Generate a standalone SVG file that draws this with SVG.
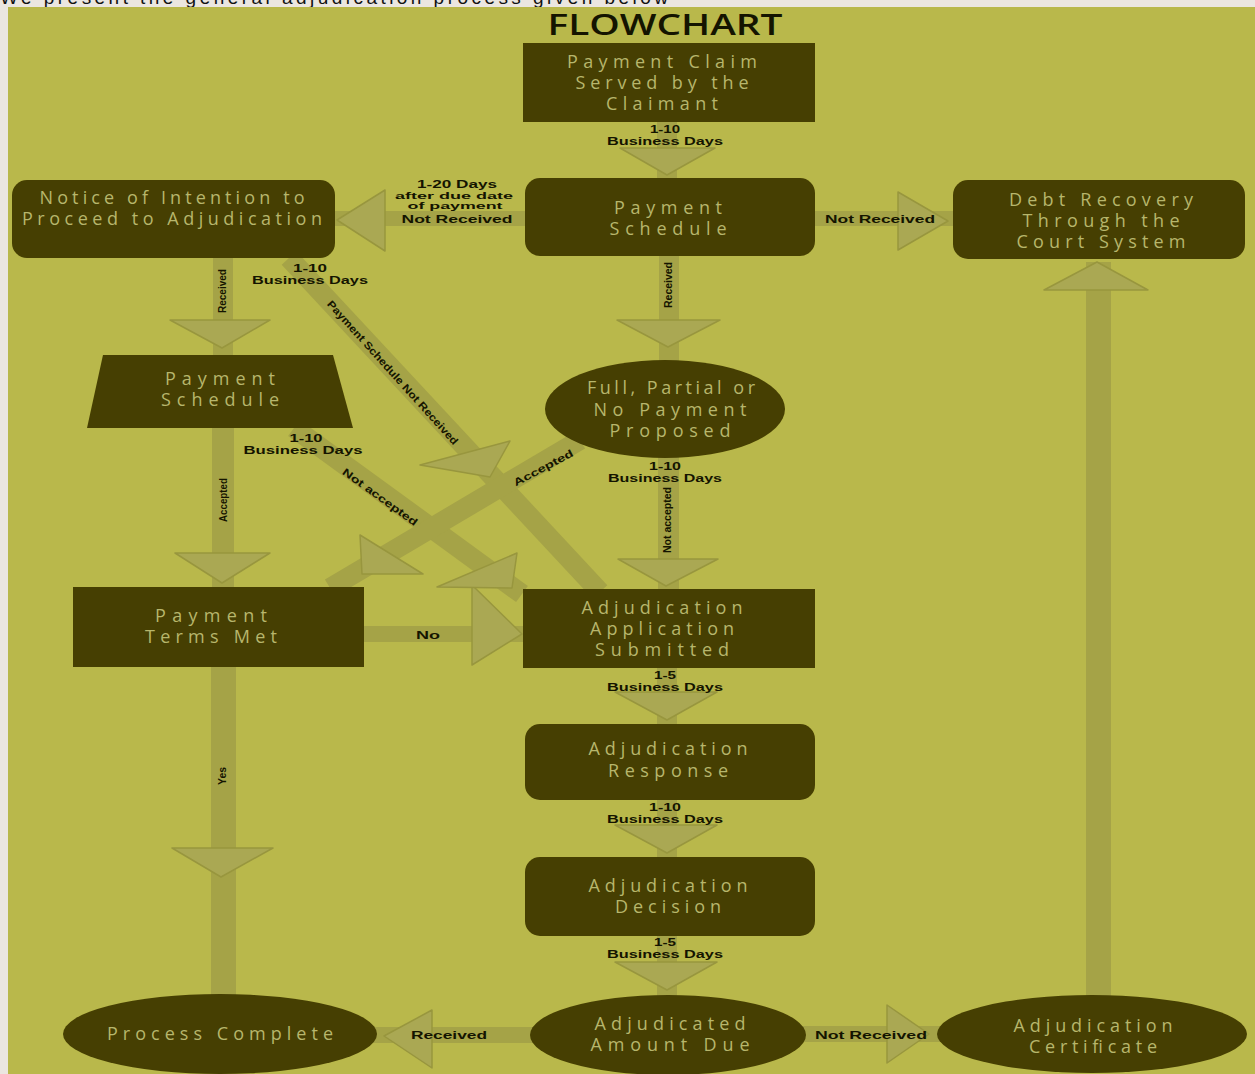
<svg xmlns="http://www.w3.org/2000/svg" width="1255" height="1074" viewBox="0 0 1255 1074">
<style>
.bg{fill:#b9b84b}
.node{fill:#463f02}
.nt{font-family:"Open Sans","DejaVu Sans",sans-serif;font-size:18px;fill:#b7b66c;text-anchor:middle}
.band{fill:#a5a347}
.head{fill:#aaa853;stroke:#98963e;stroke-width:1.5;stroke-linejoin:round}
.lb{font-family:"Liberation Sans",Arial,sans-serif;font-weight:bold;font-size:10.5px;fill:#141400;text-anchor:middle}
.ls{font-size:9px}
</style>
<rect x="0" y="0" width="1255" height="1074" fill="#ebe6e0"/>
<text x="0" y="4" font-family="Liberation Sans, Arial, sans-serif" font-size="19" fill="#111" textLength="668" lengthAdjust="spacing">We present the general adjudication process given below</text>
<rect class="bg" x="8" y="7" width="1247" height="1067"/>
<text x="665" y="35" font-family="Open Sans, DejaVu Sans, sans-serif" font-size="28" font-weight="600" fill="#141400" text-anchor="middle" textLength="235" lengthAdjust="spacingAndGlyphs">FLOWCHART</text>

<g id="connectors">
  <rect class="band" x="657" y="122" width="20" height="56"/>
  <rect class="band" x="335" y="211" width="190" height="15"/>
  <rect class="band" x="815" y="211" width="138" height="15"/>
  <rect class="band" x="1086" y="262" width="25" height="735"/>
  <rect class="band" x="213" y="258" width="20" height="97"/>
  <rect class="band" x="659" y="256" width="20" height="106"/>
  <rect class="band" x="212" y="428" width="22" height="159"/>
  <rect class="band" x="658" y="456" width="21" height="133"/>
  <rect class="band" x="211" y="667" width="25" height="330"/>
  <rect class="band" x="364" y="626" width="159" height="16"/>
  <rect class="band" x="657" y="668" width="20" height="56"/>
  <rect class="band" x="657" y="800" width="20" height="57"/>
  <rect class="band" x="657" y="936" width="20" height="60"/>
  <rect class="band" x="370" y="1027" width="165" height="16"/>
  <rect class="band" x="800" y="1026" width="140" height="16"/>
  <line x1="289" y1="258" x2="600" y2="592" stroke="#a5a347" stroke-width="20"/>
  <line x1="294" y1="428" x2="522" y2="594" stroke="#a5a347" stroke-width="20"/>
  <line x1="580" y1="440" x2="330" y2="588" stroke="#a5a347" stroke-width="20"/>
  <polygon class="head" points="620,148 715,148 667,175"/>
  <polygon class="head" points="337,220 385,190 385,251"/>
  <polygon class="head" points="898,192 948,221 898,250"/>
  <polygon class="head" points="1097,262 1148,290 1044,290"/>
  <polygon class="head" points="170,320 270,320 222,348"/>
  <polygon class="head" points="617,320 720,320 668,347"/>
  <polygon class="head" points="175,553 270,553 222,583"/>
  <polygon class="head" points="618,559 718,559 666,586"/>
  <polygon class="head" points="615,692 717,692 667,720"/>
  <polygon class="head" points="615,825 717,825 667,853"/>
  <polygon class="head" points="615,962 717,962 667,990"/>
  <polygon class="head" points="172,848 273,848 221,877"/>
  <polygon class="head" points="472,585 522,634 472,665"/>
  <polygon class="head" points="384,1036 432,1010 432,1068"/>
  <polygon class="head" points="887,1005 929,1034 887,1063"/>
  <polygon class="head" points="420,465 510,441 490,477"/>
  <polygon class="head" points="360,535 423,574 362,574"/>
  <polygon class="head" points="437,587 517,553 512,588"/>
  <text class="lb" x="665" y="133" textLength="30" lengthAdjust="spacingAndGlyphs">1-10</text>
  <text class="lb" x="665" y="145" textLength="116" lengthAdjust="spacingAndGlyphs">Business Days</text>
  <text class="lb" x="457" y="188" textLength="80" lengthAdjust="spacingAndGlyphs">1-20 Days</text>
  <text class="lb ls" x="454" y="199" textLength="118" lengthAdjust="spacingAndGlyphs">after due date</text>
  <text class="lb ls" x="455" y="209" textLength="95" lengthAdjust="spacingAndGlyphs">of payment</text>
  <text class="lb" x="457" y="223" textLength="111" lengthAdjust="spacingAndGlyphs">Not Received</text>
  <text class="lb" x="880" y="223" textLength="110" lengthAdjust="spacingAndGlyphs">Not Received</text>
  <text class="lb" x="310" y="272" textLength="34" lengthAdjust="spacingAndGlyphs">1-10</text>
  <text class="lb" x="310" y="284" textLength="116" lengthAdjust="spacingAndGlyphs">Business Days</text>
  <text class="lb" transform="translate(226,291) rotate(-90)" textLength="44" lengthAdjust="spacingAndGlyphs">Received</text>
  <text class="lb" transform="translate(672,285) rotate(-90)" textLength="46" lengthAdjust="spacingAndGlyphs">Received</text>
  <text class="lb" transform="translate(390,375) rotate(48)" textLength="190" lengthAdjust="spacingAndGlyphs">Payment Schedule Not Received</text>
  <text class="lb" x="306" y="442" textLength="33" lengthAdjust="spacingAndGlyphs">1-10</text>
  <text class="lb" x="303" y="454" textLength="119" lengthAdjust="spacingAndGlyphs">Business Days</text>
  <text class="lb" transform="translate(378,500) rotate(36)" textLength="90" lengthAdjust="spacingAndGlyphs">Not accepted</text>
  <text class="lb" transform="translate(227,500) rotate(-90)" textLength="44" lengthAdjust="spacingAndGlyphs">Accepted</text>
  <text class="lb" transform="translate(545,471) rotate(-28)" textLength="66" lengthAdjust="spacingAndGlyphs">Accepted</text>
  <text class="lb" x="665" y="470" textLength="32" lengthAdjust="spacingAndGlyphs">1-10</text>
  <text class="lb" x="665" y="482" textLength="114" lengthAdjust="spacingAndGlyphs">Business Days</text>
  <text class="lb" transform="translate(671,520) rotate(-90)" textLength="66" lengthAdjust="spacingAndGlyphs">Not accepted</text>
  <text class="lb" x="428" y="639" textLength="24" lengthAdjust="spacingAndGlyphs">No</text>
  <text class="lb" x="665" y="679" textLength="22" lengthAdjust="spacingAndGlyphs">1-5</text>
  <text class="lb" x="665" y="691" textLength="116" lengthAdjust="spacingAndGlyphs">Business Days</text>
  <text class="lb" x="665" y="811" textLength="32" lengthAdjust="spacingAndGlyphs">1-10</text>
  <text class="lb" x="665" y="823" textLength="116" lengthAdjust="spacingAndGlyphs">Business Days</text>
  <text class="lb" x="665" y="946" textLength="22" lengthAdjust="spacingAndGlyphs">1-5</text>
  <text class="lb" x="665" y="958" textLength="116" lengthAdjust="spacingAndGlyphs">Business Days</text>
  <text class="lb" transform="translate(226,776) rotate(-90)" textLength="18" lengthAdjust="spacingAndGlyphs">Yes</text>
  <text class="lb" x="449" y="1039" textLength="76" lengthAdjust="spacingAndGlyphs">Received</text>
  <text class="lb" x="871" y="1039" textLength="112" lengthAdjust="spacingAndGlyphs">Not Received</text>
</g>

<g id="payment-claim">
  <rect class="node" x="523" y="43" width="292" height="79"/>
  <text class="nt" x="662" y="68" textLength="190" lengthAdjust="spacing">Payment Claim</text>
  <text class="nt" x="662" y="89" textLength="173" lengthAdjust="spacing">Served by the</text>
  <text class="nt" x="662" y="110" textLength="112" lengthAdjust="spacing">Claimant</text>
</g>
<g id="payment-schedule">
  <rect class="node" x="525" y="178" width="290" height="78" rx="15"/>
  <text class="nt" x="668" y="214" textLength="108" lengthAdjust="spacing">Payment</text>
  <text class="nt" x="668" y="235" textLength="117" lengthAdjust="spacing">Schedule</text>
</g>
<g id="notice">
  <rect class="node" x="12" y="180" width="323" height="78" rx="15"/>
  <text class="nt" x="172" y="204" textLength="265" lengthAdjust="spacing">Notice of Intention to</text>
  <text class="nt" x="172" y="225" textLength="300" lengthAdjust="spacing">Proceed to Adjudication</text>
</g>
<g id="debt-recovery">
  <rect class="node" x="953" y="180" width="292" height="79" rx="15"/>
  <text class="nt" x="1101" y="206" textLength="184" lengthAdjust="spacing">Debt Recovery</text>
  <text class="nt" x="1101" y="227" textLength="157" lengthAdjust="spacing">Through the</text>
  <text class="nt" x="1101" y="248" textLength="169" lengthAdjust="spacing">Court System</text>
</g>
<g id="payment-schedule-2">
  <polygon class="node" points="103,355 333,355 353,428 87,428"/>
  <text class="nt" x="220" y="385" textLength="110" lengthAdjust="spacing">Payment</text>
  <text class="nt" x="220" y="406" textLength="118" lengthAdjust="spacing">Schedule</text>
</g>
<g id="full-partial">
  <ellipse class="node" cx="665" cy="409" rx="120" ry="49"/>
  <text class="nt" x="671" y="394" textLength="168" lengthAdjust="spacing">Full, Partial or</text>
  <text class="nt" x="670" y="416" textLength="153" lengthAdjust="spacing">No Payment</text>
  <text class="nt" x="670" y="437" textLength="121" lengthAdjust="spacing">Proposed</text>
</g>
<g id="payment-terms-met">
  <rect class="node" x="73" y="587" width="291" height="80"/>
  <text class="nt" x="211" y="622" textLength="112" lengthAdjust="spacing">Payment</text>
  <text class="nt" x="211" y="643" textLength="132" lengthAdjust="spacing">Terms Met</text>
</g>
<g id="adjudication-application">
  <rect class="node" x="523" y="589" width="292" height="79"/>
  <text class="nt" x="662" y="614" textLength="161" lengthAdjust="spacing">Adjudication</text>
  <text class="nt" x="662" y="635" textLength="144" lengthAdjust="spacing">Application</text>
  <text class="nt" x="662" y="656" textLength="134" lengthAdjust="spacing">Submitted</text>
</g>
<g id="adjudication-response">
  <rect class="node" x="525" y="724" width="290" height="76" rx="15"/>
  <text class="nt" x="668" y="755" textLength="159" lengthAdjust="spacing">Adjudication</text>
  <text class="nt" x="668" y="777" textLength="120" lengthAdjust="spacing">Response</text>
</g>
<g id="adjudication-decision">
  <rect class="node" x="525" y="857" width="290" height="79" rx="15"/>
  <text class="nt" x="668" y="892" textLength="159" lengthAdjust="spacing">Adjudication</text>
  <text class="nt" x="668" y="913" textLength="106" lengthAdjust="spacing">Decision</text>
</g>
<g id="adjudicated-amount-due">
  <ellipse class="node" cx="668" cy="1035" rx="138" ry="40"/>
  <text class="nt" x="670" y="1030" textLength="151" lengthAdjust="spacing">Adjudicated</text>
  <text class="nt" x="670" y="1051" textLength="159" lengthAdjust="spacing">Amount Due</text>
</g>
<g id="process-complete">
  <ellipse class="node" cx="220" cy="1034" rx="157" ry="40"/>
  <text class="nt" x="220" y="1040" textLength="226" lengthAdjust="spacing">Process Complete</text>
</g>
<g id="adjudication-certificate">
  <ellipse class="node" cx="1092" cy="1034" rx="155" ry="39"/>
  <text class="nt" x="1093" y="1032" textLength="159" lengthAdjust="spacing">Adjudication</text>
  <text class="nt" x="1093" y="1053" textLength="128" lengthAdjust="spacing">Certificate</text>
</g>
</svg>
